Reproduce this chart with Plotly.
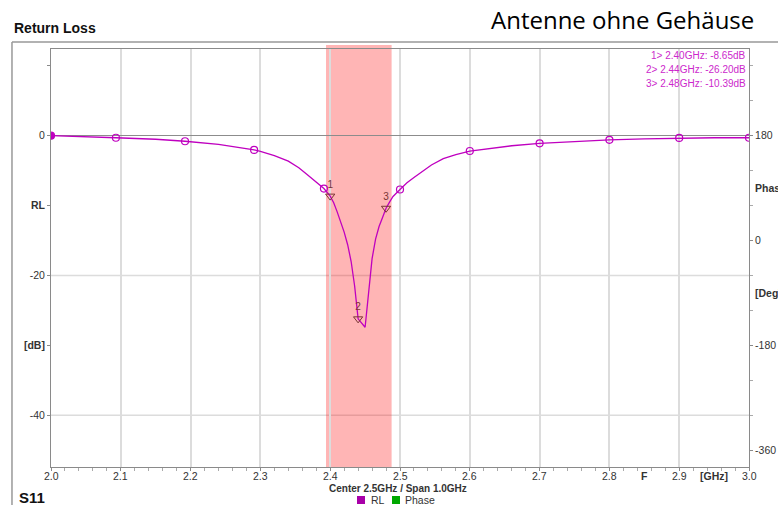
import plotly.graph_objects as go

# S11 return loss sweep, 2.0 - 3.0 GHz
freq_ghz = [2.000, 2.050, 2.093, 2.150, 2.192, 2.240, 2.265, 2.291, 2.300, 2.320,
            2.340, 2.355, 2.366, 2.380, 2.391, 2.400, 2.405, 2.410, 2.415, 2.420,
            2.425, 2.430, 2.435, 2.440, 2.450, 2.455, 2.460, 2.465, 2.470, 2.475,
            2.480, 2.485, 2.490, 2.500, 2.510, 2.520, 2.533, 2.545, 2.562, 2.580,
            2.600, 2.630, 2.660, 2.700, 2.750, 2.800, 2.850, 2.900, 2.950, 3.000]
rl_db = [0.00, -0.12, -0.30, -0.52, -0.80, -1.25, -1.60, -2.05, -2.25, -2.85,
         -3.65, -4.60, -5.50, -6.60, -7.57, -8.65, -9.60, -10.90, -12.30, -13.80,
         -15.60, -18.00, -21.50, -26.20, -27.40, -22.60, -17.60, -14.80, -13.00, -11.70,
         -10.39, -9.50, -8.70, -7.70, -6.75, -6.00, -5.00, -4.20, -3.30, -2.70,
         -2.20, -1.80, -1.45, -1.10, -0.80, -0.60, -0.45, -0.33, -0.30, -0.30]

# sample points drawn with circle symbols
dot_freq = [2.000, 2.093, 2.192, 2.291, 2.391, 2.500, 2.600, 2.700, 2.800, 2.900, 3.000]
dot_rl = [0.00, -0.30, -0.80, -2.05, -7.57, -7.70, -2.20, -1.10, -0.60, -0.33, -0.30]

# marker readouts
mk_id = ["1", "2", "3"]
mk_freq = [2.40, 2.44, 2.48]
mk_rl = [-8.65, -26.20, -10.39]

# ISM band highlight
band = [2.394, 2.488]

# axis ticks
x_ticks = [2.0, 2.1, 2.2, 2.3, 2.4, 2.5, 2.6, 2.7, 2.8, 2.9, 3.0]
x_extra = [(2.85, "F"), (2.95, "[GHz]")]
y_ticks = [10, 0, -10, -20, -30, -40]
y_text = ["", "0", "<b>RL</b>", "-20", "<b>[dB]</b>", "-40"]
y_grid = [-20, -40]
ph_ticks = [180, 0, -180, -360]
ph_extra = [(90, "Phase"), (-90, "[Deg]")]

MAG = "#bf00bf"
LBL = "#cc28cc"
AX = "#8a8a8a"
GRID = "#dcdcdc"
TXT = "#333333"
FONT = "Liberation Sans, Arial, sans-serif"

fig = go.Figure()

fig.add_trace(go.Scatter(
    x=freq_ghz, y=rl_db, mode="lines", name="RL",
    line=dict(color=MAG, width=1.3), showlegend=False, hoverinfo="skip"))

fig.add_trace(go.Scatter(
    x=dot_freq, y=dot_rl, mode="markers", showlegend=False, hoverinfo="skip",
    marker=dict(symbol=["circle"] + ["circle-open"] * (len(dot_freq) - 1),
                size=7, color=MAG, line=dict(color=MAG, width=1.2))))

fig.add_trace(go.Scatter(
    x=mk_freq, y=mk_rl, mode="markers+text", text=mk_id,
    textposition="top center", showlegend=False, hoverinfo="skip",
    textfont=dict(family=FONT, size=10, color="#7a3434"),
    marker=dict(symbol="triangle-down-open", size=8, color="#7a3434",
                line=dict(color="#7a3434", width=1))))

# phase trace (no data in this sweep view)
fig.add_trace(go.Scatter(x=[], y=[], yaxis="y2", name="Phase",
                         mode="lines", line=dict(color="#00a800"), showlegend=False))

shapes = []
for g in y_grid:
    shapes.append(dict(type="line", xref="paper", yref="y", x0=0, x1=1, y0=g, y1=g,
                       line=dict(color=GRID, width=1.5), layer="below"))
shapes.append(dict(type="rect", xref="x", yref="paper", x0=band[0], x1=band[1],
                   y0=0, y1=1.0096, fillcolor="rgba(255,0,0,0.29)",
                   line=dict(width=0), layer="between"))
# outer frame
shapes.append(dict(type="line", xref="paper", yref="paper", x0=-0.0559, x1=-0.0559,
                   y0=1.0167, y1=-0.1, line=dict(color="#999999", width=1.5)))
shapes.append(dict(type="line", xref="paper", yref="paper", x0=-0.0559, x1=1.05,
                   y0=1.0167, y1=1.0167, line=dict(color="#999999", width=1.5)))
# legend swatches
shapes.append(dict(type="rect", xref="paper", yref="paper", x0=0.4384, x1=0.4499,
                   y0=-0.0885, y1=-0.0694, fillcolor="#a800a8", line=dict(width=0)))
shapes.append(dict(type="rect", xref="paper", yref="paper", x0=0.4885, x1=0.5,
                   y0=-0.0885, y1=-0.0694, fillcolor="#00a800", line=dict(width=0)))

ann = []
ann.append(dict(text="<b>Return Loss</b>", xref="paper", yref="paper", x=-0.0559, y=1.0514,
                xanchor="left", yanchor="middle", showarrow=False,
                font=dict(family=FONT, size=14, color="#111111")))
ann.append(dict(text="Antenne ohne Gehäuse", xref="paper", yref="paper", x=1.0100, y=1.0694,
                xanchor="right", yanchor="middle", showarrow=False,
                font=dict(family="Open Sans, sans-serif", size=24, color="#000000")))
ann.append(dict(text="<b>S11</b>", xref="paper", yref="paper", x=-0.0487, y=-0.0718,
                xanchor="left", yanchor="middle", showarrow=False,
                font=dict(family=FONT, size=15, color="#111111")))
ann.append(dict(text="<b>Center 2.5GHz / Span 1.0GHz</b>", xref="paper", yref="paper",
                x=0.497, y=-0.0505, xanchor="center", yanchor="middle", showarrow=False,
                font=dict(family=FONT, size=10, color=TXT)))
ann.append(dict(text="RL", xref="paper", yref="paper", x=0.4556, y=-0.079,
                xanchor="left", yanchor="middle", showarrow=False,
                font=dict(family=FONT, size=10.5, color=TXT)))
ann.append(dict(text="Phase", xref="paper", yref="paper", x=0.5043, y=-0.079,
                xanchor="left", yanchor="middle", showarrow=False,
                font=dict(family=FONT, size=10.5, color=TXT)))
# frequency tick labels sit close under the axis
for t in x_ticks:
    ann.append(dict(text=f"{t:.1f}", xref="x", yref="paper", x=t, y=0, yshift=-1,
                    xanchor="center", yanchor="top", showarrow=False,
                    font=dict(family=FONT, size=10.5, color=TXT)))
for t, s in x_extra:
    ann.append(dict(text=f"<b>{s}</b>", xref="x", yref="paper", x=t, y=0, yshift=-1,
                    xanchor="center", yanchor="top", showarrow=False,
                    font=dict(family=FONT, size=10.5, color=TXT)))
for t, s in ph_extra:
    ann.append(dict(text=f"<b>{s}</b>", xref="paper", yref="y2", x=1, y=t, xshift=4,
                    xanchor="left", yanchor="middle", showarrow=False,
                    font=dict(family=FONT, size=10.5, color=TXT)))
for i, (m, f, v) in enumerate(zip(mk_id, mk_freq, mk_rl)):
    ann.append(dict(text=f"{m}> {f:.2f}GHz: {v:.2f}dB", xref="paper", yref="paper",
                    x=0.9986, y=1.0, yshift=-6 - 14 * i, xanchor="right", yanchor="middle",
                    showarrow=False, font=dict(family=FONT, size=10, color=LBL)))

fig.update_layout(
    width=778, height=505,
    margin=dict(l=51, r=29, t=49, b=38, autoexpand=False),
    paper_bgcolor="white", plot_bgcolor="white",
    showlegend=False,
    font=dict(family=FONT, size=10.5, color=TXT),
    shapes=shapes, annotations=ann,
    xaxis=dict(range=[2.0, 3.0], tickvals=x_ticks, showticklabels=False, automargin=False,
               showgrid=True, gridcolor=GRID, gridwidth=1.5, zeroline=False,
               showline=True, linecolor=AX, linewidth=1, mirror=True,
               ticks="outside", ticklen=3, tickcolor=AX,
               minor=dict(dtick=0.02, ticks="outside", ticklen=3, tickcolor="#aaaaaa",
                          showgrid=False)),
    yaxis=dict(range=[-47.39, 12.39], tickvals=y_ticks, ticktext=y_text, automargin=False,
               showgrid=False, zeroline=True, zerolinecolor="#8c8c8c", zerolinewidth=1.2,
               showline=True, linecolor=AX, linewidth=1, mirror=True,
               ticks="outside", ticklen=3, tickcolor=AX,
               tickfont=dict(family=FONT, size=10.5, color=TXT)),
    yaxis2=dict(range=[-389.2, 328.9], overlaying="y", side="right", anchor="x",
                automargin=False,
                tickvals=ph_ticks, ticktext=[str(t) for t in ph_ticks],
                showgrid=False, zeroline=False, showline=False,
                ticks="outside", ticklen=3, tickcolor=AX,
                minor=dict(dtick=60, tick0=0, ticks="outside", ticklen=3, tickcolor="#aaaaaa",
                           showgrid=False),
                tickfont=dict(family=FONT, size=10.5, color=TXT)),
)

fig.write_html("out.html")
